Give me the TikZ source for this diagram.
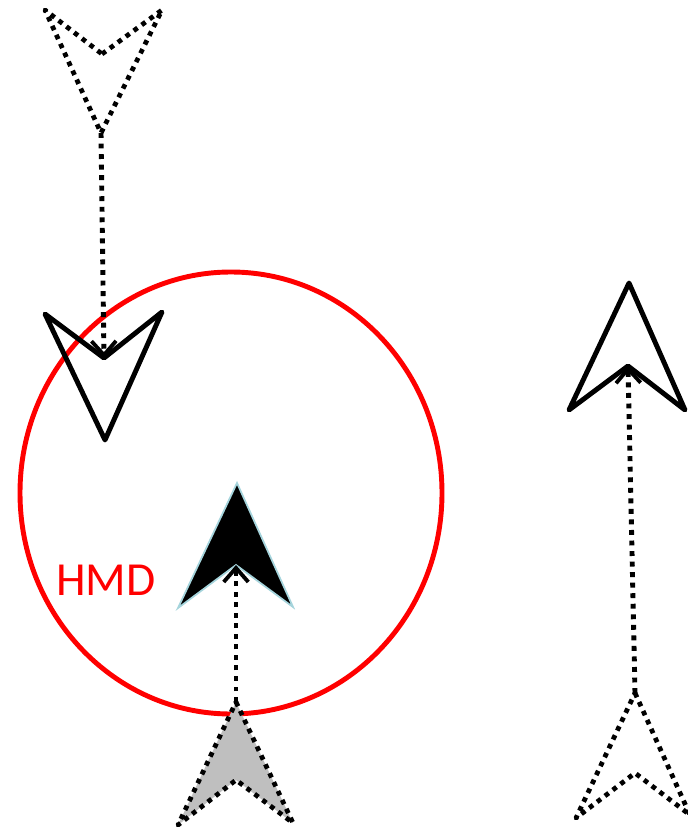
\documentclass[tikz,border=0pt]{standalone}
\usepackage{fontspec}
\setsansfont{Carlito}
\usetikzlibrary{arrows.meta}

\definecolor{hmdred}{RGB}{255,0,0}
\definecolor{edgeblue}{RGB}{165,212,220}

\begin{document}
\begin{tikzpicture}[
    x=0.02cm, y=-0.02cm,
    solidhead/.style={
        draw=black,
        line width=2.8pt,
        line join=round
    },
    dothead/.style={
        draw=black,
        line width=2.7pt,
        line join=round,
        dash pattern=on 2.7pt off 2.9pt
    },
    link/.style={
        -{Straight Barb[length=8pt, width=14pt, line width=2.2pt]},
        line width=2.8pt,
        dash pattern=on 2.8pt off 3.2pt
    },
    region/.style={
        draw=hmdred,
        line width=2.8pt
    }
]
    \useasboundingbox (0,0) rectangle (687,830);

    % --- HMD region ---
    \draw[region] (231,493) ellipse [x radius=211, y radius=221];
    \node[text=hmdred, font=\sffamily\fontsize{27}{30}\selectfont] (hmd) at (106,580) {HMD};

    % --- Left: previous pose (top) and current pose ---
    \coordinate (prevL) at (45,10);
    \coordinate (prevN) at (102,54);
    \coordinate (prevR) at (162,10);
    \coordinate (prevT) at (101,133);
    \draw[dothead] (prevN) -- (prevR) -- (prevT) -- (prevL) -- cycle;

    \coordinate (curL) at (45,314);
    \coordinate (curN) at (104,358);
    \coordinate (curR) at (162,312);
    \coordinate (curT) at (105,440);
    \draw[solidhead] (curN) -- (curR) -- (curT) -- (curL) -- cycle;

    \draw[link] (prevT) -- (curN);

    % --- Middle: user inside the HMD ---
    \coordinate (userT) at (237,483);
    \coordinate (userL) at (178,608);
    \coordinate (userN) at (236,565);
    \coordinate (userR) at (293,607);
    \draw[fill=black, draw=edgeblue, line width=1pt] (userT) -- (userR) -- (userN) -- (userL) -- cycle;

    \coordinate (startT) at (236,702);
    \coordinate (startL) at (178,825);
    \coordinate (startN) at (236,780);
    \coordinate (startR) at (293,823);
    \draw[dothead, fill=gray!50] (startT) -- (startR) -- (startN) -- (startL) -- cycle;

    \draw[link] (startT) -- (userN);

    % --- Right: moving target ---
    \coordinate (nextT) at (629,283);
    \coordinate (nextL) at (569,410);
    \coordinate (nextN) at (628,366);
    \coordinate (nextR) at (685,410);
    \draw[solidhead] (nextT) -- (nextR) -- (nextN) -- (nextL) -- cycle;

    \coordinate (origT) at (635,693);
    \coordinate (origL) at (576,818);
    \coordinate (origN) at (635,773);
    \coordinate (origR) at (690,815);
    \draw[dothead] (origT) -- (origR) -- (origN) -- (origL) -- cycle;

    \draw[link] (origT) -- (nextN);

\end{tikzpicture}
\end{document}
